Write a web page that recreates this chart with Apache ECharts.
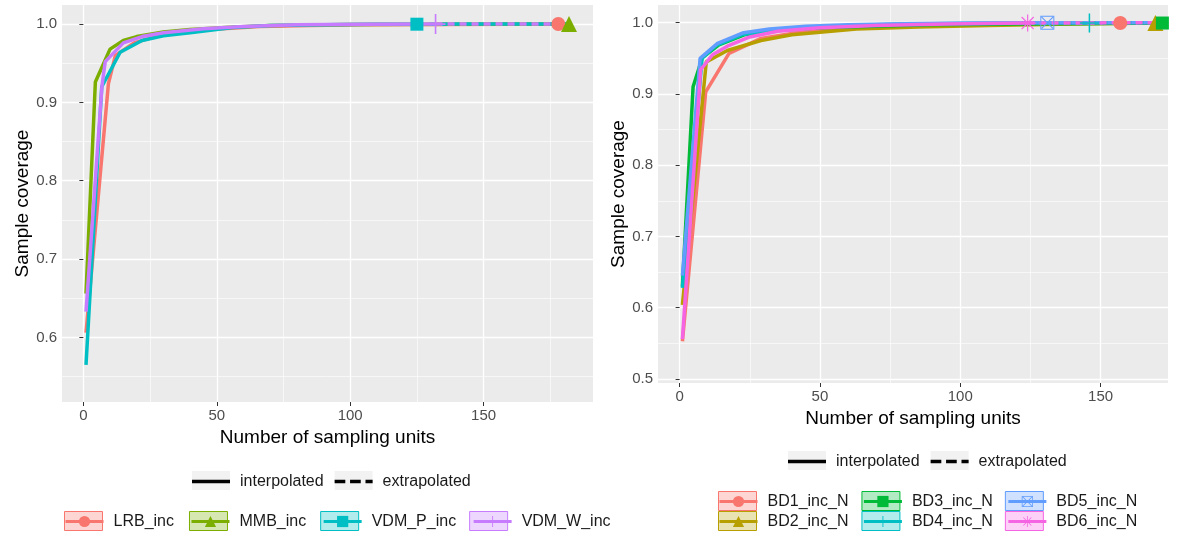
<!DOCTYPE html>
<html>
<head>
<meta charset="utf-8">
<script src="https://cdn.jsdelivr.net/npm/echarts@6/dist/echarts.min.js"></script>
<style>
  html, body { margin: 0; padding: 0; background: #fff; }
  #coverage { width: 1178px; height: 533px; }
</style>
</head>
<body>
<div id="coverage"></div>
<script>
// left panel: [sampling units, coverage]
var lrbInterp = [[1, 0.606], [9.4, 0.924], [12, 0.960], [19, 0.976], [28, 0.985], [38, 0.990], [47, 0.993], [57, 0.995], [66, 0.997], [85, 0.998], [104, 0.999], [131, 0.9995], [160, 0.9998], [178, 1.0]];
var lrbExtrap = [[178, 1.0], [182, 1.0]];
var mmbInterp = [[1, 0.656], [4.5, 0.926], [10, 0.968], [15, 0.979], [20, 0.984], [30, 0.990], [40, 0.993], [55, 0.996], [70, 0.998], [100, 0.9994], [140, 0.9998], [182, 1.0]];
var mmbExtrap = [];
var vdmPInterp = [[1, 0.565], [6.9, 0.920], [13.8, 0.964], [22, 0.979], [30, 0.985], [40, 0.989], [56, 0.9955], [70, 0.998], [90, 0.999], [110, 0.9996], [125, 0.9998]];
var vdmPExtrap = [[125, 0.9998], [150, 1.0], [182, 1.0]];
var vdmWInterp = [[1, 0.633], [7, 0.922], [8.2, 0.952], [15, 0.976], [22, 0.984], [30, 0.989], [45, 0.994], [60, 0.997], [80, 0.999], [105, 0.9996], [132, 0.9999]];
var vdmWExtrap = [[132, 0.9999], [182, 1.0]];

// right panel
var bd1Interp = [[1, 0.553], [9.3, 0.903], [17.6, 0.957], [29, 0.978], [40, 0.985], [55, 0.990], [70, 0.994], [90, 0.996], [110, 0.998], [135, 0.999], [157, 0.9995]];
var bd1Extrap = [[157, 0.9995], [173, 0.9997]];
var bd2Interp = [[1, 0.604], [9.5, 0.945], [17, 0.961], [29, 0.975], [40, 0.983], [63, 0.991], [85, 0.994], [110, 0.996], [140, 0.998], [169.5, 0.9995]];
var bd2Extrap = [[169.5, 0.9995], [173, 0.9996]];
var bd3Interp = [[1, 0.630], [4.8, 0.910], [8.1, 0.951], [14, 0.969], [23, 0.983], [35, 0.989], [50, 0.993], [70, 0.995], [90, 0.997], [120, 0.998], [150, 0.999], [172, 0.9995]];
var bd3Extrap = [];
var bd4Interp = [[1, 0.628], [8, 0.950], [13, 0.968], [22, 0.983], [32, 0.989], [45, 0.993], [60, 0.996], [80, 0.998], [100, 0.999], [125, 0.9995], [146, 0.9997]];
var bd4Extrap = [[146, 0.9997], [173, 0.9999]];
var bd5Interp = [[1, 0.645], [7.3, 0.950], [13.5, 0.971], [22.8, 0.986], [32, 0.991], [45, 0.995], [60, 0.997], [80, 0.9985], [105, 0.9994], [131, 0.9998]];
var bd5Extrap = [[131, 0.9998], [173, 1.0]];
var bd6Interp = [[1, 0.556], [7.5, 0.934], [11.7, 0.955], [17, 0.967], [25, 0.980], [35, 0.988], [50, 0.993], [70, 0.996], [95, 0.998], [124, 0.9995]];
var bd6Extrap = [[124, 0.9995], [173, 0.9999]];

var xTicks = [0, 50, 100, 150];
var xMinorTicks = [25, 75, 125, 175];
var yTicksLeft = [0.6, 0.7, 0.8, 0.9, 1.0];
var yTicksRight = [0.5, 0.6, 0.7, 0.8, 0.9, 1.0];
var yMinorTicks = [0.55, 0.65, 0.75, 0.85, 0.95];

var FONT = 'Liberation Sans';

// ggplot-like shapes
var plusPath = 'path://M-0.08,-1H0.08V-0.08H1V0.08H0.08V1H-0.08V0.08H-1V-0.08H-0.08Z';
var starPath = 'path://M-0.07,-1H0.07V1H-0.07Z M-1,-0.07H1V0.07H-1Z M-0.66,-0.76L0.76,0.66L0.66,0.76L-0.76,-0.66Z M0.66,-0.76L0.76,-0.66L-0.66,0.76L-0.76,0.66Z';
var boxXPath = 'path://M-1,-1H1V1H-1Z M-0.86,-0.86V0.86H0.86V-0.86Z M-0.86,-0.75L0.75,0.86L0.86,0.75L-0.75,-0.86Z M0.75,-0.86L0.86,-0.75L-0.75,0.86L-0.86,0.75Z';

function alpha(hex, a) {
  var n = parseInt(hex.slice(1), 16);
  return 'rgba(' + (n >> 16) + ',' + ((n >> 8) & 255) + ',' + (n & 255) + ',' + a + ')';
}

function groupSeries(name, color, symbol, size, interp, extrap, ax) {
  var list = [];
  list.push({
    name: name, type: 'line', xAxisIndex: ax, yAxisIndex: ax,
    data: interp, symbol: symbol, symbolSize: size, showSymbol: false,
    lineStyle: { color: color, width: 3.5 }, itemStyle: { color: color }, z: 3
  });
  if (extrap.length) {
    list.push({
      name: name, type: 'line', xAxisIndex: ax, yAxisIndex: ax,
      data: extrap, symbol: 'none', showSymbol: false,
      lineStyle: { color: color, width: 3.5, type: [7, 5] }, z: 3
    });
  }
  list.push({
    name: name, type: 'scatter', xAxisIndex: ax, yAxisIndex: ax,
    data: [interp[interp.length - 1]], symbol: symbol, symbolSize: size,
    itemStyle: { color: color, opacity: 1 }, clip: false, z: 5
  });
  return list;
}

var leftGroups = [
  ['LRB_inc', '#F8766D', 'circle', 14, lrbInterp, lrbExtrap],
  ['MMB_inc', '#7CAE00', 'triangle', 16, mmbInterp, mmbExtrap],
  ['VDM_P_inc', '#00BFC4', 'rect', 13, vdmPInterp, vdmPExtrap],
  ['VDM_W_inc', '#C77CFF', plusPath, 20, vdmWInterp, vdmWExtrap]
];
var rightGroups = [
  ['BD1_inc_N', '#F8766D', 'circle', 14, bd1Interp, bd1Extrap],
  ['BD2_inc_N', '#B79F00', 'triangle', 16, bd2Interp, bd2Extrap],
  ['BD3_inc_N', '#00BA38', 'rect', 13, bd3Interp, bd3Extrap],
  ['BD4_inc_N', '#00BFC4', plusPath, 19, bd4Interp, bd4Extrap],
  ['BD5_inc_N', '#619CFF', boxXPath, 14, bd5Interp, bd5Extrap],
  ['BD6_inc_N', '#F564E3', starPath, 17, bd6Interp, bd6Extrap]
];

var series = [
  { name: 'interpolated', type: 'line', xAxisIndex: 0, yAxisIndex: 0, data: [], lineStyle: { color: '#000' } },
  { name: 'extrapolated', type: 'line', xAxisIndex: 0, yAxisIndex: 0, data: [], lineStyle: { color: '#000', type: 'dashed' } }
];
leftGroups.forEach(function (g) { series = series.concat(groupSeries(g[0], g[1], g[2], g[3], g[4], g[5], 0)); });
rightGroups.forEach(function (g) { series = series.concat(groupSeries(g[0], g[1], g[2], g[3], g[4], g[5], 2)); });

function xAxes(grid, min, max, nameGap) {
  return [
    {
      gridIndex: grid, type: 'value', min: min, max: max, position: 'bottom',
      name: 'Number of sampling units', nameLocation: 'middle', nameGap: nameGap,
      nameTextStyle: { fontSize: 19, color: '#000', fontFamily: FONT },
      axisLine: { show: false },
      axisTick: { show: true, customValues: xTicks, length: 4, lineStyle: { color: '#333' } },
      axisLabel: { customValues: xTicks, fontSize: 15, color: '#4d4d4d', margin: 6, fontFamily: FONT },
      splitLine: { show: true, lineStyle: { color: '#fff', width: 1.3 } }
    },
    {
      gridIndex: grid, type: 'value', min: min, max: max, position: 'top',
      axisLine: { show: false },
      axisTick: { show: false, customValues: xMinorTicks },
      axisLabel: { show: false },
      splitLine: { show: true, lineStyle: { color: '#fff', width: 0.6 } }
    }
  ];
}

function yAxes(grid, min, max, ticks, nameGap) {
  return [
    {
      gridIndex: grid, type: 'value', min: min, max: max, position: 'left',
      name: 'Sample coverage', nameLocation: 'middle', nameGap: nameGap,
      nameTextStyle: { fontSize: 19, color: '#000', fontFamily: FONT },
      axisLine: { show: false },
      axisTick: { show: true, customValues: ticks, length: 4, lineStyle: { color: '#333' } },
      axisLabel: { customValues: ticks, fontSize: 15, color: '#4d4d4d', margin: 5, fontFamily: FONT,
        formatter: function (v) { return v.toFixed(1); } },
      splitLine: { show: true, lineStyle: { color: '#fff', width: 1.3 } }
    },
    {
      gridIndex: grid, type: 'value', min: min, max: max, position: 'right',
      axisLine: { show: false },
      axisTick: { show: false, customValues: yMinorTicks },
      axisLabel: { show: false },
      splitLine: { show: true, lineStyle: { color: '#fff', width: 0.6 } }
    }
  ];
}

var solidIcon = 'path://M0,0H32V3H0Z';
var dashIcon = 'path://M0,0H9V3H0Z M13,0H22V3H13Z M26,0H32V3H26Z';

// two stacked legends: key background box, then line + shape on top
function legendPair(left, top, gap, items) {
  var bg = {
    left: left, top: top, orient: 'horizontal', padding: 0, itemGap: gap,
    itemWidth: 38, itemHeight: 19, selectedMode: false,
    textStyle: { fontSize: 16, fontFamily: FONT, color: 'rgba(0,0,0,0)', padding: [0, 0, 0, 5] },
    data: items.map(function (it) {
      return { name: it.name, icon: 'rect', itemStyle: { color: it.fill, borderColor: it.border, borderWidth: it.border ? 1 : 0 } };
    })
  };
  var fg = {
    left: left, top: top + 2.5, orient: 'horizontal', padding: 0, itemGap: gap,
    itemWidth: 38, itemHeight: 14, selectedMode: false,
    textStyle: { fontSize: 16, fontFamily: FONT, color: '#1a1a1a', padding: [0, 0, 0, 5] },
    lineStyle: { width: 3 },
    data: items.map(function (it) {
      var d = { name: it.name };
      if (it.icon) { d.icon = it.icon; d.itemStyle = { color: '#000' }; }
      return d;
    })
  };
  return [bg, fg];
}

function groupItems(groups) {
  return groups.map(function (g) { return { name: g[0], fill: alpha(g[1], 0.3), border: g[1] }; });
}

var typeItems = [
  { name: 'interpolated', fill: '#f2f2f2', icon: solidIcon },
  { name: 'extrapolated', fill: '#f2f2f2', icon: dashIcon }
];

var legends = []
  .concat(legendPair(192, 471, 11, typeItems))
  .concat(legendPair(64, 511, 16, groupItems(leftGroups)))
  .concat(legendPair(788, 451, 11, typeItems))
  .concat(legendPair(718, 491, 14, groupItems([rightGroups[0], rightGroups[2], rightGroups[4]])))
  .concat(legendPair(718, 511, 14, groupItems([rightGroups[1], rightGroups[3], rightGroups[5]])));

var chart = echarts.init(document.getElementById('coverage'));
chart.setOption({
  animation: false,
  backgroundColor: '#fff',
  textStyle: { fontFamily: FONT },
  grid: [
    { left: 62, top: 5, width: 531, height: 397, show: true, backgroundColor: '#ebebeb', borderWidth: 0 },
    { left: 658, top: 5, width: 510, height: 378, show: true, backgroundColor: '#ebebeb', borderWidth: 0 }
  ],
  xAxis: xAxes(0, -8, 191, 25).concat(xAxes(1, -7.7, 174, 23)),
  yAxis: yAxes(0, 0.5176, 1.0243, yTicksLeft, 30).concat(yAxes(1, 0.4944, 1.0248, yTicksRight, 30)),
  legend: legends,
  series: series
});
</script>
</body>
</html>
